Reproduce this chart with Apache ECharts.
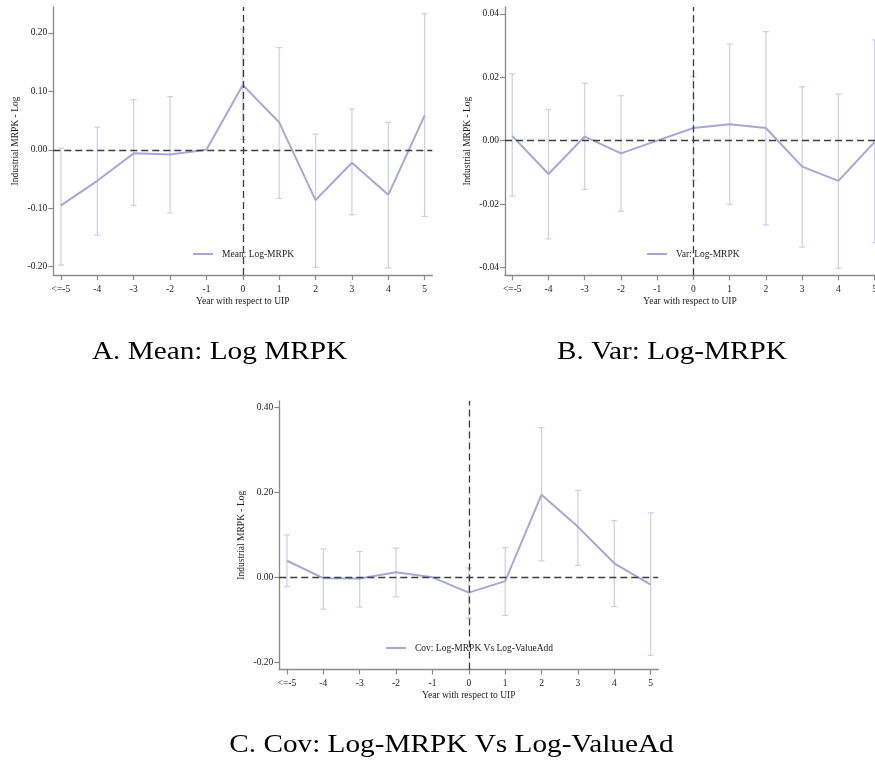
<!DOCTYPE html>
<html>
<head>
<meta charset="utf-8">
<script src="https://cdn.jsdelivr.net/npm/echarts@6/dist/echarts.min.js"></script>
<style>
  html, body { margin: 0; padding: 0; background: #fff; }
  #chart { width: 875px; height: 763px; }
</style>
</head>
<body>
<div id="chart"></div>
<script>
// Event-study estimates around UIP adoption (year relative to UIP)
const years = [-5, -4, -3, -2, -1, 0, 1, 2, 3, 4, 5];
const yearLabels = ['<=-5', '-4', '-3', '-2', '-1', '0', '1', '2', '3', '4', '5'];

// Panel A: mean of log MRPK
const meanCoef = [-0.095, -0.053, -0.006, -0.008, 0, 0.111, 0.047, -0.086, -0.022, -0.077, 0.059];
const meanLow  = [-0.197, -0.146, -0.095, -0.108, null, 0.018, -0.083, -0.201, -0.111, -0.202, -0.114];
const meanHigh = [0.003, 0.039, 0.086, 0.091, null, 0.207, 0.175, 0.027, 0.070, 0.047, 0.233];

// Panel B: variance of log MRPK
const varCoef = [0.0015, -0.0105, 0.0013, -0.0040, 0, 0.0040, 0.0052, 0.0040, -0.0082, -0.0127, -0.0004];
const varLow  = [-0.0175, -0.0310, -0.0154, -0.0223, null, -0.0125, -0.0201, -0.0266, -0.0336, -0.0403, -0.0322];
const varHigh = [0.0211, 0.0099, 0.0181, 0.0142, null, 0.0202, 0.0305, 0.0344, 0.0170, 0.0147, 0.0318];

// Panel C: covariance of log MRPK with log value added
const covCoef = [0.039, -0.002, -0.003, 0.012, 0, -0.036, -0.009, 0.195, 0.119, 0.033, -0.017];
const covLow  = [-0.022, -0.075, -0.070, -0.046, null, -0.096, -0.090, 0.039, 0.028, -0.069, -0.184];
const covHigh = [0.100, 0.067, 0.061, 0.069, null, 0.022, 0.070, 0.353, 0.205, 0.134, 0.152];

const yTicksA = [-0.2, -0.1, 0, 0.1, 0.2];
const yTicksB = [-0.04, -0.02, 0, 0.02, 0.04];
const yTicksC = [-0.2, 0, 0.2, 0.4];

const captions = ['A. Mean: Log MRPK', 'B. Var: Log-MRPK', 'C. Cov: Log-MRPK Vs Log-ValueAd'];
const seriesNames = ['Mean: Log-MRPK', 'Var: Log-MRPK', 'Cov: Log-MRPK Vs Log-ValueAdd'];

const SERIF = '"Liberation Serif", "Times New Roman", serif';
const LINE_COLOR = '#a9a7d5';
const CI_COLOR = '#cfcde7';
const AXIS_COLOR = '#8a8a8a';
const TEXT_COLOR = '#222';

const chart = echarts.init(document.getElementById('chart'), null, { renderer: 'canvas' });

const panels = [
  { grid: { left: 53.3, top: 7, width: 379, height: 268 }, x: [-5.21, 5.21], y: [-0.2142, 0.2445], ticks: yTicksA,
    coef: meanCoef, lo: meanLow, hi: meanHigh, legend: { left: 193, top: 249 } },
  // the right-hand panel runs off the page edge, so its year axis stops right at 5
  { grid: { left: 505, top: 7, width: 370, height: 268.3 }, x: [-5.2, 5.01], y: [-0.0425, 0.0422], ticks: yTicksB,
    coef: varCoef, lo: varLow, hi: varHigh, legend: { left: 647, top: 249 } },
  { grid: { left: 279.3, top: 401, width: 379, height: 268.5 }, x: [-5.21, 5.21], y: [-0.2174, 0.4158], ticks: yTicksC,
    coef: covCoef, lo: covLow, hi: covHigh, legend: { left: 386, top: 643 } }
];

const grids = [], xAxes = [], yAxes = [], series = [], legends = [];

panels.forEach((p, i) => {
  grids.push(Object.assign({ containLabel: false, outerBoundsMode: 'none' }, p.grid));
  xAxes.push({
    type: 'value', gridIndex: i, min: p.x[0], max: p.x[1],
    name: 'Year with respect to UIP', nameLocation: 'middle', nameGap: 21,
    nameTextStyle: { fontFamily: SERIF, fontSize: 9.5, color: TEXT_COLOR },
    axisLine: { show: true, onZero: false, lineStyle: { color: AXIS_COLOR, width: 1.3 } },
    axisTick: { show: true, length: 5, customValues: years, lineStyle: { color: AXIS_COLOR, width: 1.2 } },
    axisLabel: {
      customValues: years, margin: 9, fontFamily: SERIF, fontSize: 9.5, color: TEXT_COLOR,
      formatter: v => yearLabels[years.indexOf(Math.round(v))]
    },
    splitLine: { show: false }
  });
  yAxes.push({
    type: 'value', gridIndex: i, min: p.y[0], max: p.y[1],
    name: 'Industrial MRPK - Log', nameLocation: 'middle', nameGap: 33,
    nameTextStyle: { fontFamily: SERIF, fontSize: 9.5, color: TEXT_COLOR },
    axisLine: { show: true, onZero: false, lineStyle: { color: AXIS_COLOR, width: 1.3 } },
    axisTick: { show: true, length: 5, customValues: p.ticks, lineStyle: { color: AXIS_COLOR, width: 1.2 } },
    axisLabel: {
      customValues: p.ticks, margin: 6, fontFamily: SERIF, fontSize: 9.5, color: TEXT_COLOR,
      formatter: v => v.toFixed(2)
    },
    splitLine: { show: false }
  });

  // confidence intervals with caps
  const ciData = years.map((yr, k) => [yr, p.lo[k], p.hi[k]]).filter(d => d[1] !== null);
  series.push({
    type: 'custom', xAxisIndex: i, yAxisIndex: i, z: 1, silent: true,
    data: ciData,
    renderItem: (params, api) => {
      const top = api.coord([api.value(0), api.value(2)]);
      const bot = api.coord([api.value(0), api.value(1)]);
      const half = 3;
      const st = { stroke: CI_COLOR, lineWidth: 1.2 };
      return {
        type: 'group',
        children: [
          { type: 'line', shape: { x1: top[0], y1: top[1], x2: bot[0], y2: bot[1] }, style: st },
          { type: 'line', shape: { x1: top[0] - half, y1: top[1], x2: top[0] + half, y2: top[1] }, style: st },
          { type: 'line', shape: { x1: bot[0] - half, y1: bot[1], x2: bot[0] + half, y2: bot[1] }, style: st }
        ]
      };
    }
  });

  // point estimates
  series.push({
    type: 'line', name: seriesNames[i], xAxisIndex: i, yAxisIndex: i, z: 2,
    data: years.map((yr, k) => [yr, p.coef[k]]),
    showSymbol: false, symbol: 'none', silent: true,
    lineStyle: { color: LINE_COLOR, width: 2 }, itemStyle: { color: LINE_COLOR },
    animation: false
  });

  // reference lines at zero effect and at the adoption year
  series.push({
    type: 'line', xAxisIndex: i, yAxisIndex: i, z: 5, data: [], silent: true,
    markLine: {
      silent: true, symbol: 'none', animation: false,
      label: { show: false },
      lineStyle: { color: '#3c3c3c', width: 1.3, type: [7, 4] },
      data: [{ yAxis: 0 }, { xAxis: 0 }]
    }
  });

  legends.push(Object.assign({
    data: [seriesNames[i]], orient: 'horizontal', icon: 'rect',
    itemWidth: 20, itemHeight: 2, padding: 0,
    textStyle: { fontFamily: SERIF, fontSize: 9.5, color: TEXT_COLOR, padding: [0, 0, 0, 4] },
    selectedMode: false
  }, p.legend));
});

const captionPos = [[219.5, 352], [672, 352], [451.5, 745]];
const graphics = captions.map((t, i) => ({
  type: 'text', x: captionPos[i][0], y: captionPos[i][1], scaleX: 1.17,
  style: {
    text: t, font: '25px ' + SERIF, fill: '#000',
    align: 'center', verticalAlign: 'middle', textAlign: 'center', textVerticalAlign: 'middle'
  }
}));

chart.setOption({
  animation: false,
  backgroundColor: '#fff',
  grid: grids,
  xAxis: xAxes,
  yAxis: yAxes,
  legend: legends,
  series: series,
  graphic: graphics
});
</script>
</body>
</html>
